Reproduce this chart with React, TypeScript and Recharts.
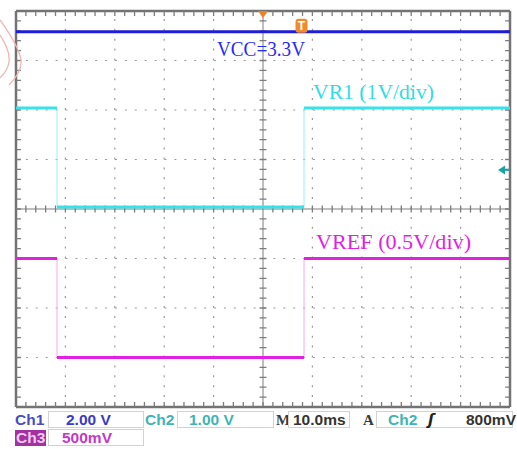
import React from 'react';
import { LineChart, Line, XAxis, YAxis, ReferenceLine, ReferenceDot } from 'recharts';

const timeMs = [0, 8.3, 58.3, 100]; // segment boundaries, ms (10 ms/div)
const vccVolts = [3.3, 3.3, 3.3];
const vr1Volts = [2.0, 0.0, 2.0];
const vrefVolts = [1.0, 0.0, 1.0];
const triggerTimeMs = 57.8;
const triggerLevelV = 0.75;

// channel settings: V/div and ground position in divisions
const ch1 = { scale: 2.0, offset: 1.93 };
const ch2 = { scale: 1.0, offset: 0.04 };
const ch3 = { scale: 0.5, offset: -3.0 };

const toDiv = (v: number, ch: { scale: number; offset: number }) => v / ch.scale + ch.offset;

type Pt = { t: number; v: number | null };

function levelsData(levels: number[], ch: { scale: number; offset: number }): Pt[] {
  const out: Pt[] = [];
  levels.forEach((lv, i) => {
    const y = toDiv(lv, ch);
    out.push({ t: timeMs[i], v: y });
    out.push({ t: timeMs[i + 1], v: y });
    if (i < levels.length - 1) out.push({ t: timeMs[i + 1], v: null });
  });
  return out;
}
function stepData(levels: number[], ch: { scale: number; offset: number }): Pt[] {
  const out: Pt[] = [];
  levels.forEach((lv, i) => {
    const y = toDiv(lv, ch);
    out.push({ t: timeMs[i], v: y });
    out.push({ t: timeMs[i + 1], v: y });
  });
  return out;
}

const round = (x: number) => Math.round(x * 1000) / 1000;
const minorX = Array.from({ length: 51 }, (_, i) => i * 2);
const minorY = Array.from({ length: 41 }, (_, i) => round(-4 + i * 0.2));
const majorX = [10, 20, 30, 40, 60, 70, 80, 90];
const majorY = [-3, -2, -1, 1, 2, 3];
const innerTickX = minorX.filter((x) => x > 0 && x < 100);
const innerTickY = minorY.filter((y) => y > -4 && y < 4);

// graticule tick marks as broken polyline (pairs of points separated by nulls)
function buildTicks(): Pt[] {
  const out: Pt[] = [];
  const seg = (a: Pt, b: Pt) => {
    out.push(a, b, { t: b.t, v: null });
  };
  innerTickX.forEach((x) => {
    if (x !== 50) seg({ t: x, v: -0.07 }, { t: x, v: 0.07 });
    seg({ t: x, v: 4 }, { t: x, v: 3.9 });
    seg({ t: x, v: -4 }, { t: x, v: -3.9 });
  });
  innerTickY.forEach((y) => {
    if (y !== 0) seg({ t: 49.3, v: y }, { t: 50.7, v: y });
    seg({ t: 0, v: y }, { t: 1.0, v: y });
    seg({ t: 99.0, v: y }, { t: 100, v: y });
  });
  return out;
}
const tickData = buildTicks();

const GRID = '#9a9a9a';
const BORDER = '#737373';
const TICK = '#7c7c7c';
const BLUE = '#1e1ed8';
const CYAN = '#38e2ea';
const MAGENTA = '#e022e0';

export default function App() {
  return (
    <div style={{ position: 'absolute', left: 0, top: 0, width: 517, height: 449, background: '#fff', overflow: 'hidden' }}>
      <LineChart width={517} height={449} margin={{ top: 11, right: 7, bottom: 42, left: 16 }}>
        <XAxis dataKey="t" type="number" domain={[0, 100]} ticks={[0, 100]} mirror height={0} axisLine={false} tickLine={false} tick={false} allowDataOverflow />
        <YAxis type="number" domain={[-4, 4]} ticks={[-4, 4]} mirror width={0} axisLine={false} tickLine={false} tick={false} allowDataOverflow />

        {majorX.map((x) => (
          <ReferenceLine key={'gx' + x} x={x} stroke={GRID} strokeWidth={1.2} strokeDasharray="2 7.9" />
        ))}
        {majorY.map((y) => (
          <ReferenceLine key={'gy' + y} y={y} stroke={GRID} strokeWidth={1.2} strokeDasharray="2 7.9" />
        ))}
        <ReferenceLine x={50} stroke={TICK} strokeWidth={1} />
        <ReferenceLine y={0} stroke={TICK} strokeWidth={1} />
        <ReferenceLine x={0} stroke={BORDER} strokeWidth={2.5} />
        <ReferenceLine x={100} stroke={BORDER} strokeWidth={2.5} />
        <ReferenceLine y={4} stroke={BORDER} strokeWidth={2.5} />
        <ReferenceLine y={-4} stroke={BORDER} strokeWidth={2.5} />

        <Line data={tickData} dataKey="v" stroke={TICK} strokeWidth={1.3} dot={false} activeDot={false} isAnimationActive={false} />

        <Line data={stepData(vr1Volts, ch2)} dataKey="v" stroke="#9aeef6" strokeWidth={1} dot={false} activeDot={false} isAnimationActive={false} />
        <Line data={stepData(vrefVolts, ch3)} dataKey="v" stroke="#f6a6f6" strokeWidth={1} dot={false} activeDot={false} isAnimationActive={false} />
        <Line data={levelsData(vccVolts, ch1)} dataKey="v" stroke={BLUE} strokeWidth={3} dot={false} activeDot={false} isAnimationActive={false} />
        <Line data={levelsData(vr1Volts, ch2)} dataKey="v" stroke={CYAN} strokeWidth={3} dot={false} activeDot={false} isAnimationActive={false} />
        <Line data={levelsData(vrefVolts, ch3)} dataKey="v" stroke={MAGENTA} strokeWidth={3} dot={false} activeDot={false} isAnimationActive={false} />

        <ReferenceDot
          x={50}
          y={4}
          r={0}
          shape={(p: any) => (
            <path d={`M${p.cx - 5},${p.cy} L${p.cx + 5},${p.cy} L${p.cx},${p.cy + 7} Z`} fill="#f08224" />
          )}
        />
        <ReferenceDot
          x={triggerTimeMs}
          y={3.7}
          r={0}
          shape={(p: any) => (
            <g>
              <rect x={p.cx - 6} y={p.cy - 7} width={12} height={14} rx={3} fill="#f08a2a" />
              <text x={p.cx} y={p.cy + 4.5} textAnchor="middle" fontSize={12} fontWeight="bold" fill="#fff" fontFamily="Liberation Sans">T</text>
            </g>
          )}
        />
        <ReferenceDot
          x={100}
          y={toDiv(triggerLevelV, ch2)}
          r={0}
          shape={(p: any) => (
            <g>
              <path d={`M${p.cx - 12},${p.cy} L${p.cx - 5},${p.cy - 4.5} L${p.cx - 5},${p.cy + 4.5} Z`} fill="#1aa3a6" />
              <line x1={p.cx - 5} y1={p.cy} x2={p.cx} y2={p.cy} stroke="#1aa3a6" strokeWidth={2} />
            </g>
          )}
        />
      </LineChart>

      <svg style={{ position: 'absolute', left: 0, top: 0, pointerEvents: 'none' }} width={517} height={449}>
        {/* faint watermark stroke at left edge */}
        <path d="M0,20 C10,34 19,48 21,60 C22,70 16,78 9,85" fill="none" stroke="#f2b4b4" strokeWidth={1.3} />
        <path d="M0,35 C6,44 10,54 9,62 C8,69 4,74 0,78" fill="none" stroke="#f2b4b4" strokeWidth={1.3} />

        {/* trace annotations */}
        <text x={217} y={56} fontFamily="Liberation Serif" fontSize={21} fill="#2a2af5" textLength={88} lengthAdjust="spacingAndGlyphs">VCC=3.3V</text>
        <text x={313} y={99} fontFamily="Liberation Serif" fontSize={21} fill="#30dce6" textLength={121} lengthAdjust="spacingAndGlyphs">VR1 (1V/div)</text>
        <text x={316} y={249} fontFamily="Liberation Serif" fontSize={21} fill="#e21ee2" textLength={155} lengthAdjust="spacingAndGlyphs">VREF (0.5V/div)</text>

        {/* status bar */}
        <g fontFamily="Liberation Sans" fontWeight="bold" fontSize={15.5}>
          <text x={15} y={425} fill="#4c4cbc">Ch1</text>
          <rect x={48.5} y={411.5} width={95} height={16} fill="#fff" stroke="#d2d2d2" />
          <text x={66} y={425} fill="#3a3ac6">2.00 V</text>

          <text x={145} y={425} fill="#3fb4b4">Ch2</text>
          <rect x={177.5} y={411.5} width={96} height={16} fill="#fff" stroke="#d2d2d2" />
          <text x={189} y={425} fill="#3fb4b4">1.00 V</text>

          <text x={276} y={425} fill="#3a3a3a" fontFamily="Liberation Serif" fontSize={15}>M</text>
          <rect x={288.5} y={411.5} width={61} height={16} fill="#fff" stroke="#d2d2d2" />
          <text x={293} y={425} fill="#333">10.0ms</text>

          <text x={363} y={425} fill="#3a3a3a" fontFamily="Liberation Serif" fontSize={15}>A</text>
          <rect x={376.5} y={411.5} width={136} height={16} fill="#fff" stroke="#d2d2d2" />
          <text x={388} y={425} fill="#3fb4b4">Ch2</text>
          <text x={428} y={425} fill="#222" fontFamily="DejaVu Sans" fontStyle="italic" fontSize={15}>ʃ</text>
          <text x={466} y={425} fill="#333">800mV</text>

          <rect x={15} y={430} width={31} height={16} fill="#a2329f" />
          <text x={16} y={443} fill="#f4c8f4">Ch3</text>
          <rect x={48.5} y={429.5} width={95} height={16} fill="#fff" stroke="#d2d2d2" />
          <text x={62} y={443} fill="#c238c8">500mV</text>
        </g>
      </svg>
    </div>
  );
}
